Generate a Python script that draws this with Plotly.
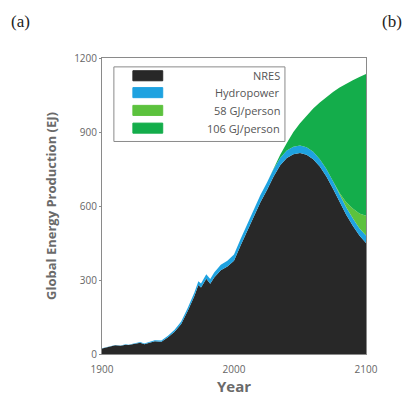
import plotly.graph_objects as go

years = [1900, 1905, 1910, 1914, 1918, 1920, 1925, 1929, 1932, 1937, 1940, 1945, 1948,
         1950, 1955, 1960, 1965, 1970, 1973, 1975, 1979, 1982, 1985, 1990, 1995, 2000,
         2005, 2010, 2015, 2020, 2025, 2030, 2035, 2040, 2045, 2050, 2055, 2060, 2065,
         2070, 2075, 2080, 2085, 2090, 2095, 2100]
nres = [22, 28, 35, 33, 38, 36, 42, 46, 40, 48, 52, 50, 60,
        68, 90, 122, 175, 235, 280, 270, 305, 285, 310, 340, 355, 378,
        440, 500, 560, 615, 665, 720, 765, 795, 810, 815, 808, 790, 760,
        720, 670, 615, 565, 520, 480, 450]
hydro = [1, 1, 1, 1, 2, 2, 2, 3, 3, 4, 4, 5, 5,
         6, 8, 10, 12, 14, 15, 16, 18, 19, 20, 22, 23, 25,
         26, 28, 29, 30, 30, 30, 30, 30, 30, 30, 30, 30, 30,
         30, 30, 30, 30, 30, 30, 30]
green58 = [0] * 41 + [8, 20, 40, 60, 80]
green106 = [0] * 32 + [13, 30, 60, 90, 127, 175, 230, 292, 362, 427, 481, 520, 553, 575]

names = ["NRES", "Hydropower", "58 GJ/person", "106 GJ/person"]
colors = ["#282828", "#1ea2e0", "#5cc23e", "#14ad4b"]
series = [nres, hydro, green58, green106]

x_ticks = [1900, 2000, 2100]
y_ticks = [0, 300, 600, 900, 1200]

fig = go.Figure()
for name, col, vals in zip(names, colors, series):
    fig.add_trace(go.Scatter(
        x=years, y=vals, name=name, stackgroup="one", mode="lines",
        line=dict(width=0, color=col), fillcolor=col, showlegend=False,
        hoverinfo="skip"))

# custom legend (right-aligned labels)
leg_y = [0.94, 0.883, 0.823, 0.763]
shapes = [dict(type="rect", xref="paper", yref="paper", x0=0.045, x1=0.693,
               y0=0.718, y1=0.97, line=dict(color="#8a8a8a", width=1),
               fillcolor="white")]
for yy, col in zip(leg_y, colors):
    shapes.append(dict(type="rect", xref="paper", yref="paper", x0=0.117, x1=0.23,
                       y0=yy - 0.017, y1=yy + 0.017, line=dict(color=col, width=1),
                       fillcolor=col))
annotations = []
for yy, name in zip(leg_y, names):
    annotations.append(dict(text=name, xref="paper", yref="paper", x=0.68, y=yy,
                            xanchor="right", yanchor="middle", showarrow=False,
                            font=dict(family="Open Sans", size=11, color="#555555")))
annotations.append(dict(text="(a)", xref="paper", yref="paper", x=-0.31, y=1.125,
                        xanchor="center", yanchor="middle", showarrow=False,
                        font=dict(family="Liberation Serif", size=17, color="#222222")))
annotations.append(dict(text="(b)", xref="paper", yref="paper", x=1.1, y=1.125,
                        xanchor="center", yanchor="middle", showarrow=False,
                        font=dict(family="Liberation Serif", size=17, color="#222222")))

fig.update_layout(
    width=410, height=405,
    margin=dict(l=102, r=44, t=58, b=51),
    paper_bgcolor="white", plot_bgcolor="white",
    shapes=shapes, annotations=annotations,
    xaxis=dict(range=[1900, 2100], tickvals=x_ticks, ticktext=[str(v) for v in x_ticks],
               showgrid=False, zeroline=False, showline=True, linecolor="#8a8a8a",
               linewidth=1, mirror=True, ticks="outside", ticklen=6,
               tickcolor="rgba(0,0,0,0)",
               tickfont=dict(family="Open Sans", size=10, color="#666666"),
               title=dict(text="<b>Year</b>", standoff=6,
                          font=dict(family="Open Sans", size=15, color="#6a6a6a"))),
    yaxis=dict(range=[0, 1200], tickvals=y_ticks, showgrid=False, zeroline=False,
               showline=True, linecolor="#8a8a8a", linewidth=1, mirror=True,
               ticks="outside", ticklen=2, tickcolor="#8a8a8a",
               tickfont=dict(family="Open Sans", size=10, color="#666666"),
               title=dict(text="<b>Global Energy Production (EJ)</b>", standoff=14,
                          font=dict(family="Open Sans", size=13, color="#6a6a6a"))),
)
for s in fig.layout.shapes:
    s.layer = "above"

fig.write_html("out.html")
